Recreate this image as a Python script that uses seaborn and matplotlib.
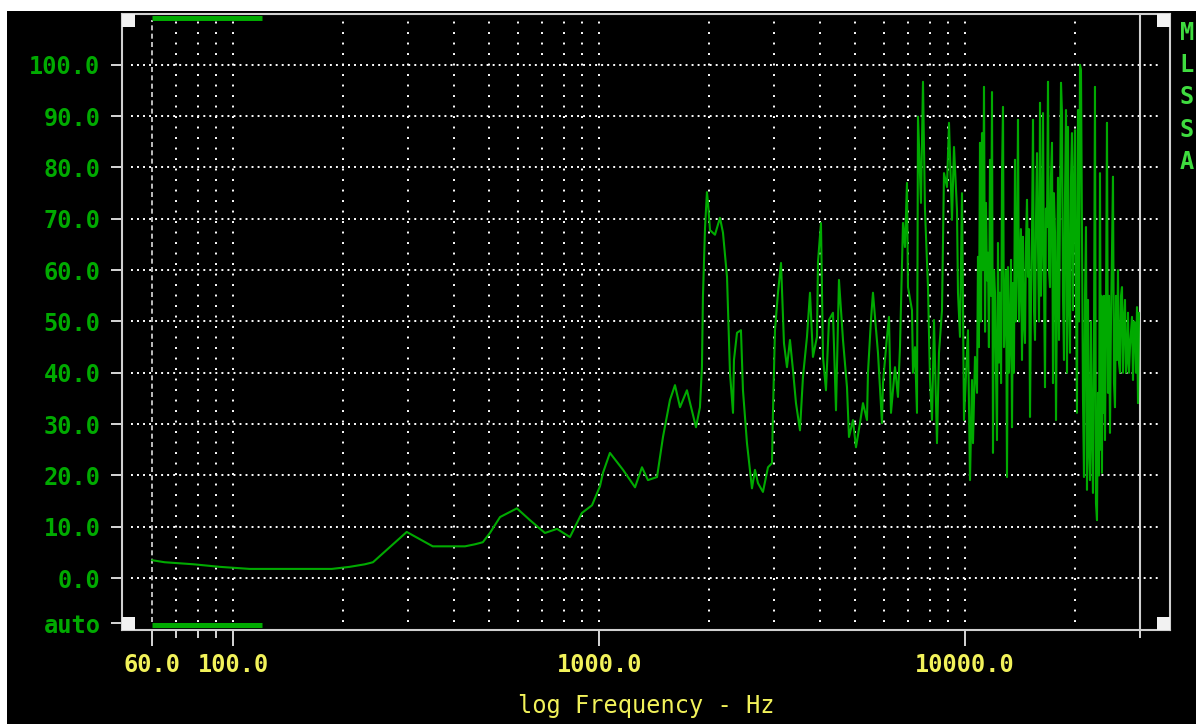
import numpy as np
import pandas as pd
import matplotlib
matplotlib.use("Agg")
import matplotlib.pyplot as plt
from matplotlib.patches import Rectangle
from matplotlib.ticker import FixedLocator, NullFormatter
import seaborn as sns

sns.set_theme(style="dark")
plt.rcParams["font.family"] = ["DejaVu Sans Mono", "DejaVu Sans"]
plt.rcParams["font.weight"] = "bold"

# trace (Hz, level)
freq_hz = [
    60, 65, 78, 92, 111, 186, 208, 229, 241, 298, 351, 430, 458, 481, 503,
    536, 596, 647, 711, 767, 832, 897, 956, 1005, 1024, 1070, 1162, 1253,
    1309, 1359, 1439, 1494, 1561, 1611, 1663, 1737, 1839, 1885, 1909, 1921,
    1946, 1970, 1983, 2008, 2072, 2138, 2179, 2235, 2277, 2321, 2335, 2380,
    2440, 2471, 2534, 2582, 2615, 2665, 2716, 2802, 2892, 2966, 2984, 3022,
    3080, 3139, 3198, 3259, 3321, 3385, 3449, 3537, 3604, 3696, 3767, 3838,
    3936, 3961, 4036, 4088, 4165, 4245, 4353, 4436, 4520, 4636, 4754, 4814,
    4937, 5031, 5159, 5257, 5391, 5425, 5528, 5598, 5777, 5925, 5962, 6114,
    6191, 6270, 6430, 6552, 6635, 6719, 6762, 6847, 6934, 6978, 7156, 7201,
    7292, 7384, 7431, 7572, 7668, 7765, 7913, 8014, 8115, 8218, 8374, 8480,
    8642, 8751, 8918, 9031, 9203, 9320, 9497, 9557, 9678, 9801, 9925, 10114,
    10177, 10307, 10437, 10503, 10636, 10771,
    10838, 10900, 10976, 11050, 11115, 11180, 11256, 11330, 11398, 11470,
    11542, 11610, 11689, 11760, 11837, 11911, 11990, 12062, 12140, 12215,
    12292, 12370, 12448, 12530, 12605, 12685, 12760, 12845, 12930, 13008,
    13090, 13170, 13256, 13340, 13424, 13508, 13590, 13679, 13760, 13852,
    13940, 14030, 14116, 14200, 14295, 14385, 14470, 14567, 14660, 14752,
    14845, 14940, 15034, 15130, 15224, 15320, 15420, 15515, 15610, 15711,
    15810, 15910, 16010, 16110, 16213, 16315, 16420, 16521, 16620, 16730,
    16836, 16940, 17049, 17150, 17265, 17373, 17480, 17594, 17705, 17816,
    17930, 18042, 18150, 18270, 18385, 18500, 18618, 18740, 18854, 18973,
    19092, 19210, 19334, 19460, 19579, 19702, 19830, 19952, 20080, 20204,
    20332, 20460, 20590, 20719, 20850, 20980, 21114, 21250, 21381, 21516,
    21651, 21790, 21926, 22060, 22203, 22343, 22480, 22626, 22768, 22912,
    23056, 23200, 23349, 23500, 23570, 23644, 23720, 23793, 23940, 24095,
    24250, 24400, 24553, 24710, 24865, 25020, 25180, 25338, 25500, 25660,
    25820, 25985, 26149, 26310, 26481, 26650, 26816, 26985, 27150, 27327,
    27500, 27673, 27848, 28020, 28201, 28380, 28558, 28738, 28920, 29102,
    29280, 29471, 29657, 29844,
]
level = [
    3.5, 3.1, 2.7, 2.2, 1.8, 1.8, 2.2, 2.7, 3.1, 9.0, 6.2, 6.2, 6.6, 7.0, 8.8,
    11.9, 13.6, 11.3, 8.8, 9.6, 8.0, 12.7, 14.2, 17.9, 20.5, 24.4, 21.1, 17.7,
    21.6, 19.1, 19.7, 27.5, 34.7, 37.6, 33.3, 36.6, 29.4, 33.3, 41.1, 54.8,
    68.2, 75.2, 73.1, 67.8, 66.9, 70.2, 67.3, 58.7, 40.0, 32.2, 42.5, 47.8,
    48.3, 36.6, 26.3, 21.1, 17.5, 21.1, 18.5, 16.8, 21.6, 22.4, 32.2, 48.3,
    55.6, 61.4, 45.8, 41.1, 46.4, 40.5, 34.1, 28.8, 39.2, 47.0, 55.6, 43.1,
    47.0, 61.6, 69.2, 43.1, 36.6, 50.3, 51.7, 32.7, 58.1, 46.4, 37.2, 27.5,
    30.8, 25.5, 30.2, 34.1, 30.8, 40.0, 50.3, 55.6, 43.9, 30.2, 38.0, 47.0,
    50.9, 32.2, 41.1, 35.3, 45.0, 61.4, 69.2, 64.5, 77.0, 56.7, 52.2, 40.0,
    45.0, 32.2, 89.9, 73.1, 96.7, 71.7, 56.7, 38.6, 30.8, 50.3, 26.3, 43.9,
    52.2, 78.9, 76.2, 88.7, 69.8, 84.0, 71.7, 55.6, 47.0, 75.0, 30.8, 43.9,
    48.3, 19.1, 38.6, 26.3, 43.1, 36.1,
    62.6, 45.0, 84.8, 50.0, 86.7, 60.0, 95.7, 48.0, 73.1, 58.0,
    63.4, 45.0, 81.5, 55.0, 94.7, 24.4, 60.0, 55.6, 40.0, 26.9,
    65.3, 42.0, 55.6, 38.0, 78.2, 91.8, 45.0, 52.8, 60.0, 19.7,
    60.6, 40.0, 47.0, 62.0, 29.4, 57.5, 40.0, 81.5, 50.0, 62.0,
    89.3, 50.0, 58.7, 68.0, 42.5, 66.5, 50.0, 45.8, 65.0, 73.7,
    58.7, 68.0, 31.4, 55.0, 66.5, 89.3, 52.0, 46.4, 70.0, 82.8,
    64.5, 50.0, 92.6, 55.0, 65.3, 90.6, 58.0, 37.2, 72.0, 68.4,
    96.7, 60.0, 56.7, 78.0, 84.8, 38.0, 75.0, 67.3, 30.8, 56.1,
    78.0, 46.4, 70.0, 96.5, 90.6, 55.0, 42.5, 75.0, 91.2, 40.0,
    87.9, 55.0, 43.9, 78.0, 86.7, 52.2, 75.0, 87.3, 55.0, 32.2,
    91.2, 50.0, 100.0, 99.0, 65.9, 35.0, 19.7, 55.0, 68.4, 17.2,
    54.2, 25.0, 19.1, 50.0, 28.3, 16.6, 45.0, 95.7, 14.6, 11.3,
    36.1, 20.0, 78.9, 25.0, 55.0, 20.5, 50.0, 32.2, 55.0, 26.9,
    52.0, 88.7, 36.1, 55.0, 28.3, 50.0, 63.4, 78.2, 38.0, 33.3,
    55.0, 42.5, 60.0, 42.0, 40.0, 55.0, 56.7, 40.0, 50.0, 54.2,
    40.0, 42.5, 51.7, 40.0, 45.0, 48.0, 50.9, 38.6, 50.0, 49.7,
    40.0, 52.8, 34.1, 51.7,
]

y_ticks = [-8.8, 0, 10, 20, 30, 40, 50, 60, 70, 80, 90, 100]
y_labels = ["auto", "0.0", "10.0", "20.0", "30.0", "40.0", "50.0", "60.0",
            "70.0", "80.0", "90.0", "100.0"]
x_ticks = [60, 100, 1000, 10000]
x_labels = ["60.0", "100.0", "1000.0", "10000.0"]
x_minor = [70, 80, 90, 30000]
grid_freqs = [70, 80, 90, 100, 200, 300, 400, 500, 600, 700, 800, 900,
              1000, 2000, 3000, 4000, 5000, 6000, 7000, 8000, 9000,
              10000, 20000]

GREEN = "#00aa00"
LIGHT_GREEN = "#3fdc3f"
YELLOW = "#f2f25a"
FRAME = "#d0d0d0"

df = pd.DataFrame({"freq": freq_hz, "level": level})

fig = plt.figure(figsize=(11.96, 7.24), dpi=100, facecolor="white")
fig.add_artist(Rectangle((7 / 1196, 0), 1, 713 / 724, transform=fig.transFigure,
                         facecolor="black", edgecolor="none", zorder=-10))
ax = fig.add_axes([122 / 1196, 94 / 724, 1048 / 1196, 616 / 724])
ax.set_facecolor("black")
ax.set_xscale("log")

# dotted screen grid
for y in range(0, 101, 10):
    ax.axhline(y, xmin=0.0086, xmax=0.99, color="white", lw=1.4,
               ls=(0, (1, 2.1)), zorder=1)
for f in grid_freqs:
    ax.axvline(f, ymin=0.013, ymax=0.99, color="white", lw=1.4,
               ls=(0, (1, 4.4)), zorder=1)
ax.axvline(60, ymin=0.013, ymax=0.99, color="#dddddd", lw=1.2,
           ls=(0, (3, 2)), zorder=1)
ax.axvline(30000, color=FRAME, lw=1.5, zorder=2)

sns.lineplot(data=df, x="freq", y="level", sort=False, estimator=None,
             color=GREEN, lw=1.5, ax=ax, zorder=3)

# cursor bars and corner blocks
ax.plot([60, 120], [0.9943, 0.9943], transform=ax.get_xaxis_transform(),
        color=GREEN, lw=3.6, solid_capstyle="butt", zorder=4)
ax.plot([60, 120], [0.0081, 0.0081], transform=ax.get_xaxis_transform(),
        color=GREEN, lw=3.6, solid_capstyle="butt", zorder=4)
w, h = 13 / 1048, 13 / 616
for x0, y0 in [(0, 0), (1 - w, 0), (0, 1 - h), (1 - w, 1 - h)]:
    ax.add_patch(Rectangle((x0, y0), w, h, transform=ax.transAxes,
                           facecolor="#f2f2f2", edgecolor="none", zorder=5))

ax.set_xlim(49.7, 36270)
ax.set_ylim(-10.1, 109.9)
ax.grid(False)

ax.set_yticks(y_ticks)
ax.set_yticklabels(y_labels)
ax.yaxis.get_major_ticks()[0].tick1line.set_visible(False)
ax.set_xticks(x_ticks)
ax.set_xticklabels(x_labels)
ax.xaxis.set_minor_locator(FixedLocator(x_minor))
ax.xaxis.set_minor_formatter(NullFormatter())

ax.tick_params(axis="y", which="major", left=True, direction="out", length=7.9,
               width=1.44, color=FRAME, pad=7.5, labelcolor=GREEN, labelsize=17)
ax.tick_params(axis="x", which="major", bottom=True, direction="out", length=11.5,
               width=1.44, color=FRAME, pad=5, labelcolor=YELLOW, labelsize=17)
ax.tick_params(axis="x", which="minor", bottom=True, direction="out", length=5.8,
               width=1.44, color=FRAME)

ax.set_xlabel("log Frequency - Hz", color=YELLOW, fontsize=17, labelpad=12)
ax.set_ylabel("")

for s in ax.spines.values():
    s.set_visible(True)
    s.set_color(FRAME)
    s.set_linewidth(1.5)

for i, ch in enumerate("MLSSA"):
    fig.text(1187 / 1196, 1 - (33 + 32.2 * i) / 724, ch, color=LIGHT_GREEN,
             ha="center", va="center", fontsize=17, fontweight="bold")

fig.savefig("out.png", dpi=100, facecolor=fig.get_facecolor())
